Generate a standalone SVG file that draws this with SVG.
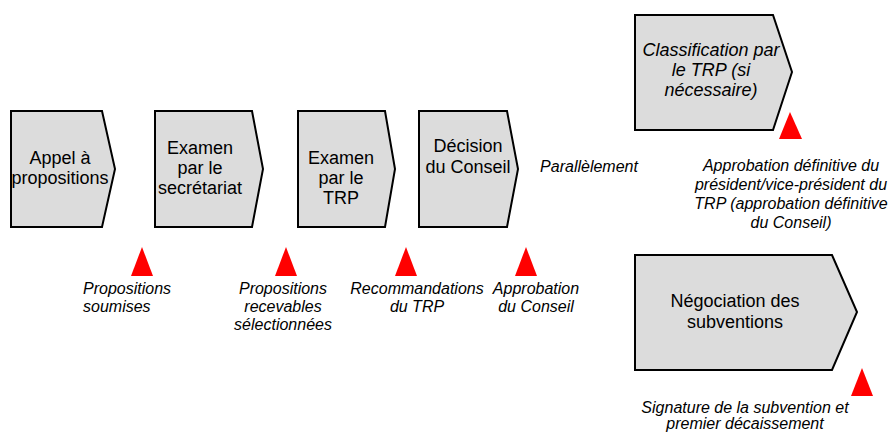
<svg xmlns="http://www.w3.org/2000/svg" width="889" height="433" viewBox="0 0 889 433">
<style>
.box{fill:#dcdcdc;stroke:#000;stroke-width:2;stroke-linejoin:miter}
.nt{font-family:"Liberation Sans",Arial,sans-serif;font-size:18px;fill:#000;text-anchor:middle}
.it{font-style:italic}
.lb{font-family:"Liberation Sans",Arial,sans-serif;font-size:16px;font-style:italic;fill:#000;text-anchor:middle}
.tri{fill:#ff0000}
</style>
<rect width="889" height="433" fill="#fff"/>
<g id="node-appel">
<path class="box" d="M11,111 H102 L115,169 L102,227 H11 Z"/>
<text class="nt" x="60" y="164">Appel à</text>
<text class="nt" x="60" y="184">propositions</text>
</g>
<g id="node-examen-secretariat">
<path class="box" d="M155,111 H252 L263,169 L252,227 H155 Z"/>
<text class="nt" x="200" y="154">Examen</text>
<text class="nt" x="200" y="174">par le</text>
<text class="nt" x="200" y="194">secrétariat</text>
</g>
<g id="node-examen-trp">
<path class="box" d="M298,111 H385 L395,169 L385,227 H298 Z"/>
<text class="nt" x="341" y="164">Examen</text>
<text class="nt" x="341" y="184">par le</text>
<text class="nt" x="341" y="204">TRP</text>
</g>
<g id="node-decision">
<path class="box" d="M419,111 H507 L518,169 L507,227 H419 Z"/>
<text class="nt" x="468" y="152">Décision</text>
<text class="nt" x="468" y="173">du Conseil</text>
</g>
<g id="node-classification">
<path class="box" d="M635,15 H773 L792,72 L773,130 H635 Z"/>
<text class="nt it" x="711" y="56">Classification par</text>
<text class="nt it" x="711" y="76">le TRP (si</text>
<text class="nt it" x="711" y="96">nécessaire)</text>
</g>
<g id="node-negociation">
<path class="box" d="M635,255 H832 L857,312 L832,370 H635 Z"/>
<text class="nt" x="735" y="307">Négociation des</text>
<text class="nt" x="735" y="328">subventions</text>
</g>
<g id="connectors">
<polygon class="tri" points="142,247 153,276 131,276"/>
<polygon class="tri" points="286,247 297,276 275,276"/>
<polygon class="tri" points="406,247 417,276 395,276"/>
<polygon class="tri" points="526,247 537,276 515,276"/>
<polygon class="tri" points="790,112 802,139 779,139"/>
<polygon class="tri" points="862,368 873,396 851,396"/>
</g>
<g id="labels">
<text class="lb" x="83" y="294" style="text-anchor:start">Propositions</text>
<text class="lb" x="83" y="312" style="text-anchor:start">soumises</text>
<text class="lb" x="283" y="294">Propositions</text>
<text class="lb" x="283" y="312">recevables</text>
<text class="lb" x="283" y="330">sélectionnées</text>
<text class="lb" x="417" y="294">Recommandations</text>
<text class="lb" x="417" y="312">du TRP</text>
<text class="lb" x="536" y="294">Approbation</text>
<text class="lb" x="536" y="312">du Conseil</text>
<text class="lb" x="589" y="172">Parallèlement</text>
<text class="lb" x="791" y="171">Approbation définitive du</text>
<text class="lb" x="791" y="190">président/vice-président du</text>
<text class="lb" x="791" y="209">TRP (approbation définitive</text>
<text class="lb" x="791" y="228">du Conseil)</text>
<text class="lb" x="745" y="413">Signature de la subvention et</text>
<text class="lb" x="745" y="429">premier décaissement</text>
</g>
</svg>
